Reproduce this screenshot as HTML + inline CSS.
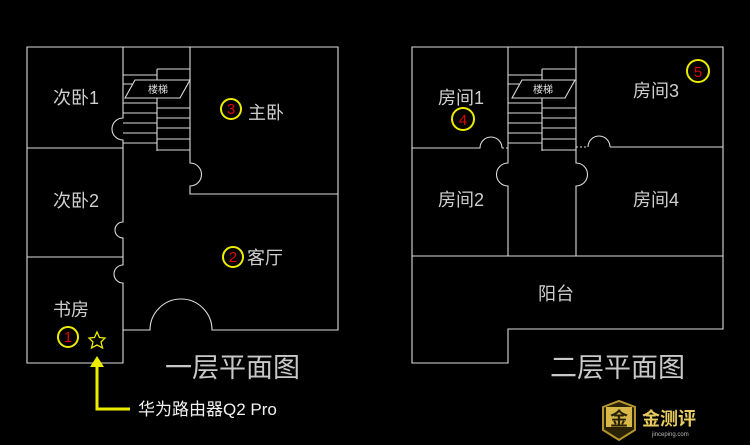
<!DOCTYPE html>
<html><head><meta charset="utf-8"><style>
html,body{margin:0;padding:0;background:#000;}
svg{display:block;}
text{font-family:"Liberation Sans","Noto Sans CJK SC",sans-serif;}
</style></head><body>
<svg width="750" height="445" viewBox="0 0 750 445" xmlns="http://www.w3.org/2000/svg">
<rect width="750" height="445" fill="#000"/>
<g stroke="#dcdcdc" stroke-width="1.1" fill="none">
<path d="M27 47 H338 V330 H212 A31 31 0 0 0 150 330 H123 V363 H27 Z"/>
<path d="M123 47 V118 A11 11 0 0 0 123 140 V222 A8 8 0 0 0 123 238 V265 A9 9 0 0 0 123 283 V330"/>
<path d="M27 148 H123 M27 257 H123"/>
<path d="M190 47 V163 A11.5 11.5 0 0 1 190 186 V194 H338"/>
<path d="M157 69 V151 M157 69 H190"/>
<path d="M123 75 H157 M123 84 H157 M123 103 H157 M123 113 H157 M123 123 H157 M123 133 H157 M123 143 H157"/>
<path d="M157 108 H190 M157 118 H190 M157 128 H190 M157 139 H190 M157 150 H190"/>
<path d="M125 98 L135 80 H190 L180 98 Z" fill="#000"/>
<path d="M412 47 H723 V329 H508 V363 H412 Z"/>
<path d="M412 256 H723"/>
<path d="M412 148 H480 A11 11 0 0 1 502 148"/>
<path d="M610 147 H723"/>
<path d="M588 147 A11 11 0 0 1 610 147"/>
<path d="M508 47 V163 A11.5 11.5 0 0 0 508 186 V256"/>
<path d="M576 47 V163 A11.5 11.5 0 0 1 576 186 V256"/>
<path d="M542 69 V151 M542 69 H576"/>
<path d="M508 75 H542 M508 84 H542 M508 103 H542 M508 113 H542 M508 123 H542 M508 133 H542 M508 143 H542"/>
<path d="M542 108 H576 M542 118 H576 M542 128 H576 M542 139 H576 M542 150 H576"/>
<path d="M512 98 L522 80 H575 L565 98 Z" fill="#000"/>
</g>
<g stroke="#dcdcdc" stroke-width="1" stroke-dasharray="2 2">
<path d="M502 148 H508 M576 147 H588"/>
</g>
<g fill="#e0e0e0" font-size="10" text-anchor="middle">
<text x="158" y="93">楼梯</text>
<text x="543" y="93">楼梯</text>
</g>
<g fill="#cfcfcf" font-size="18">
<text x="53" y="104">次卧1</text>
<text x="53" y="207">次卧2</text>
<text x="53" y="316">书房</text>
<text x="248" y="119">主卧</text>
<text x="247" y="264">客厅</text>
<text x="438" y="104">房间1</text>
<text x="438" y="206">房间2</text>
<text x="633" y="97">房间3</text>
<text x="633" y="206">房间4</text>
<text x="538" y="300">阳台</text>
</g>
<g fill="#c8c8c8" font-size="27">
<text x="165" y="377">一层平面图</text>
<text x="550" y="377">二层平面图</text>
</g>
<g stroke="#ecec00" stroke-width="2" fill="none">
<circle cx="68" cy="337" r="10"/>
<circle cx="231" cy="109" r="10"/>
<circle cx="233" cy="257" r="10"/>
<circle cx="463" cy="119" r="11"/>
<circle cx="698" cy="71" r="11"/>
<path d="M97 332 L99.5 337.5 L105 338 L101 342 L102.5 348 L97 345 L91.5 348 L93 342 L89 338 L94.5 337.5 Z" stroke-width="1.3"/>
<path d="M97 362 V409 H130" stroke-width="3"/>
</g>
<path d="M97 356 L90 367 H104 Z" fill="#ecec00"/>
<g fill="#e00000" font-size="15" text-anchor="middle">
<text x="68" y="342">1</text>
<text x="231" y="114">3</text>
<text x="233" y="262">2</text>
<text x="463" y="125">4</text>
<text x="698" y="77">5</text>
</g>
<text x="138" y="415" fill="#f2f2f2" font-size="17" font-family="Liberation Mono,'Noto Sans CJK SC',monospace">华为路由器Q2 Pro</text>
<path d="M603 407 L619 401 L635 407 V430 L619 440 L603 430 Z" fill="#2a2205" stroke="#b8962e" stroke-width="2"/>
<rect x="606" y="407" width="26" height="20" fill="#d9b84a"/>
<text x="619" y="425" font-size="18" fill="#2a2205" text-anchor="middle" font-weight="bold">金</text>
<text x="642" y="425" font-size="18" fill="#e8cc60" font-weight="bold">金测评</text>
<text x="652" y="436" font-size="6" fill="#bbb">jinceping.com</text>
</svg>
</body></html>
